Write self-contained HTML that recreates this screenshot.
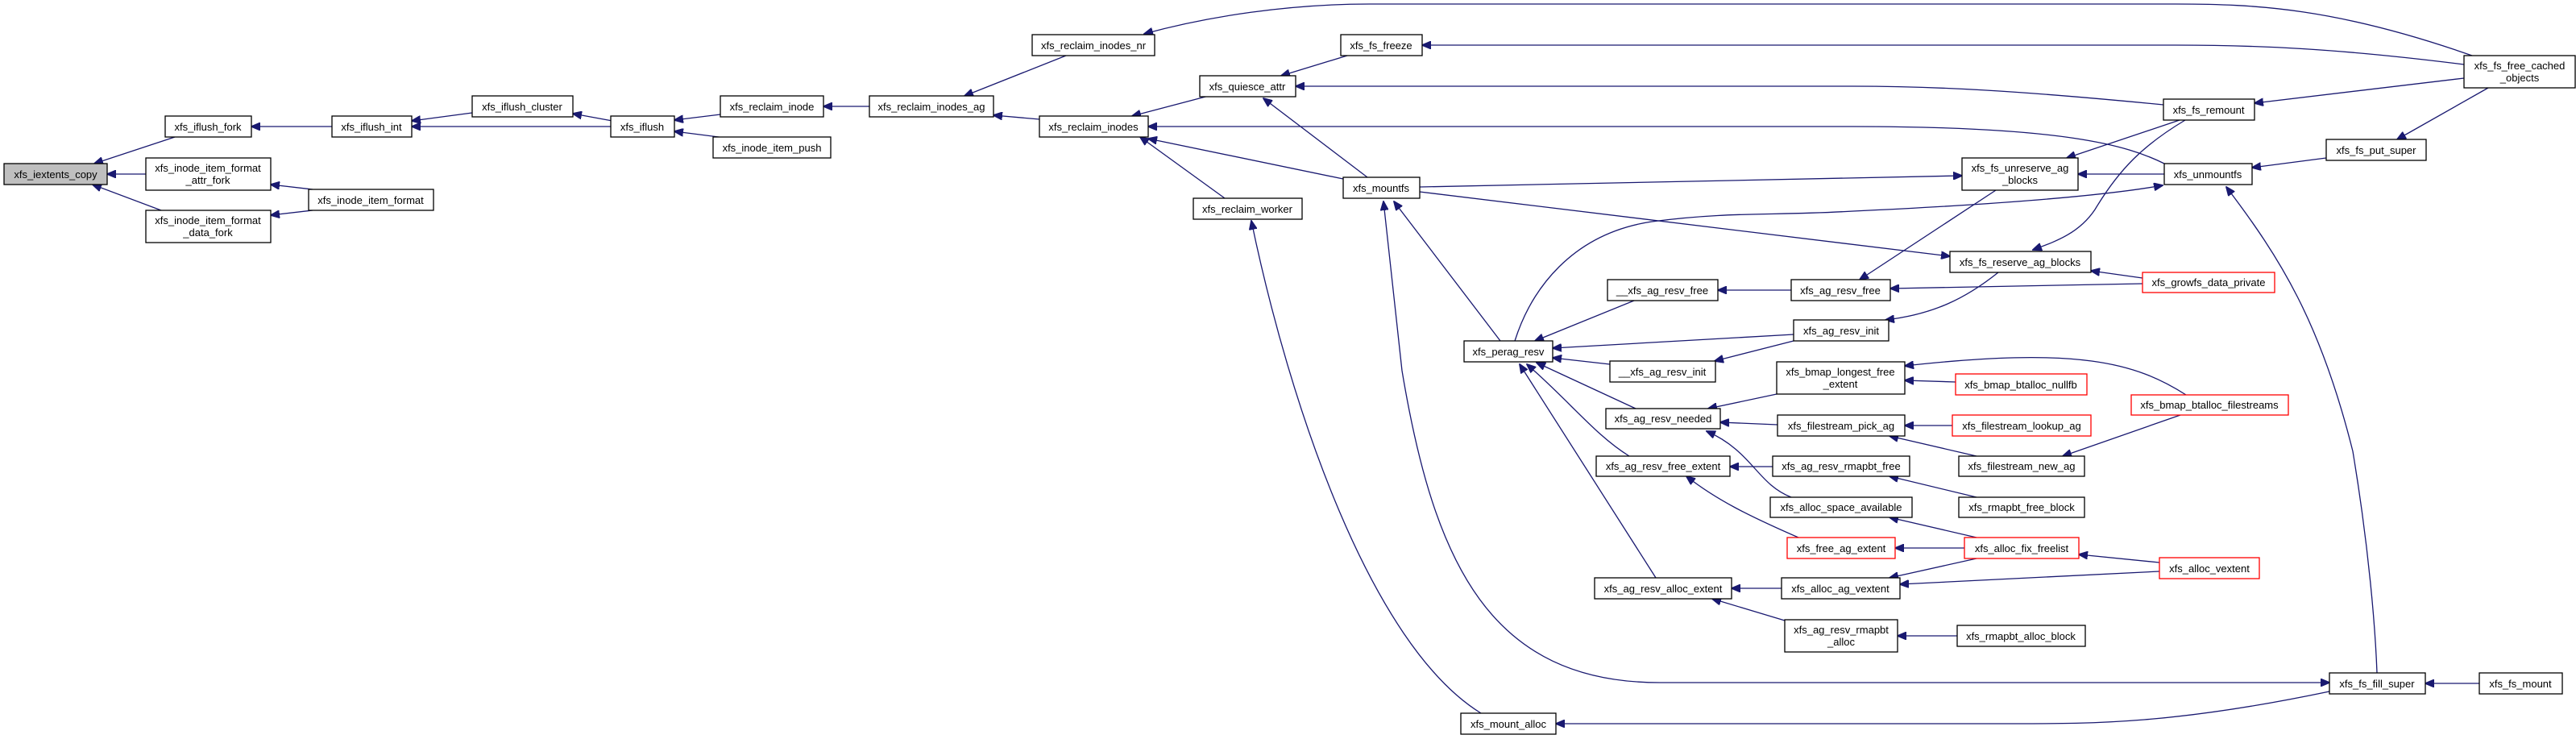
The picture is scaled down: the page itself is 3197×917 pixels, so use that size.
<!DOCTYPE html>
<html><head><meta charset="utf-8"><style>
html,body{margin:0;padding:0;background:#fff;}
svg{display:block;}
text{font-family:"Liberation Sans",sans-serif;font-size:13px;fill:#000;}
.n rect{fill:#fff;stroke:#000;stroke-width:1.3;}
.r rect{stroke:#ff0000;}
.e{fill:none;stroke:#191970;stroke-width:1.3;}
</style></head><body>
<svg width="3197" height="917" viewBox="0 0 3197 917" xmlns="http://www.w3.org/2000/svg">
<defs><marker id="a" markerWidth="12" markerHeight="10" refX="11" refY="5" orient="auto" markerUnits="userSpaceOnUse"><path d="M0,0 L12,5 L0,10 z" fill="#191970" stroke="#191970"/></marker></defs>
<g marker-end="url(#a)">
<path class="e" d="M217,170 L117,203"/>
<path class="e" d="M181,216 L133,216"/>
<path class="e" d="M200,261 L115,229"/>
<path class="e" d="M388,235 L336,229"/>
<path class="e" d="M388,261 L336,267"/>
<path class="e" d="M412,157 L312,157"/>
<path class="e" d="M586,140 L511,150"/>
<path class="e" d="M758,157 L511,157"/>
<path class="e" d="M760,150 L711,141"/>
<path class="e" d="M894,142 L837,149"/>
<path class="e" d="M900,171 L837,163"/>
<path class="e" d="M1079,132 L1022,132"/>
<path class="e" d="M1323,69 L1197,119"/>
<path class="e" d="M1290,148 L1233,143"/>
<path class="e" d="M1500,119 L1405,144"/>
<path class="e" d="M1667,222 L1425,172"/>
<path class="e" d="M1520,246 L1415,170"/>
<path class="e" d="M2686,203 C2640,180 2560,157 2300,157 L1425,157"/>
<path class="e" d="M1672,69 L1590,94"/>
<path class="e" d="M2685,130 C2500,112 2400,107 2300,107 L1608,107"/>
<path class="e" d="M1697,220 L1568,122"/>
<path class="e" d="M3068,69 C2900,10 2800,5 2700,5 L1700,5 C1600,5 1500,20 1420,42"/>
<path class="e" d="M3058,80 C2900,60 2800,56 2700,56 L1765,56"/>
<path class="e" d="M3058,97 L2798,128"/>
<path class="e" d="M3088,109 L2975,173"/>
<path class="e" d="M2887,196 L2795,208"/>
<path class="e" d="M1762,232 L2435,218"/>
<path class="e" d="M1762,238 L2420,318"/>
<path class="e" d="M2686,216 L2579,216"/>
<path class="e" d="M2705,149 L2565,196"/>
<path class="e" d="M2712,149 C2660,180 2630,210 2600,260 C2580,290 2550,300 2523,310"/>
<path class="e" d="M1880,423 C1900,360 1950,290 2050,275 C2150,262 2200,268 2300,262 C2450,255 2600,245 2684,230"/>
<path class="e" d="M2477,236 L2308,347"/>
<path class="e" d="M2480,338 C2440,370 2400,390 2340,397"/>
<path class="e" d="M2659,345 L2595,336"/>
<path class="e" d="M2659,352 L2346,358"/>
<path class="e" d="M2223,360 L2132,360"/>
<path class="e" d="M2028,373 L1905,423"/>
<path class="e" d="M2226,415 L1927,432"/>
<path class="e" d="M2226,423 L2128,448"/>
<path class="e" d="M1998,452 L1927,444"/>
<path class="e" d="M1862,423 L1730,250"/>
<path class="e" d="M1740,460 L1717,250"/>
<path class="e" d="M1740,460 C1780,700 1850,847 2060,847 L2891,847"/>
<path class="e" d="M1838,885 C1700,800 1600,500 1553,274"/>
<path class="e" d="M2891,858 C2700,898 2600,898 2500,898 L1931,898"/>
<path class="e" d="M2950,835 C2948,780 2940,680 2920,560 C2880,400 2830,320 2763,232"/>
<path class="e" d="M2030,507 L1907,450"/>
<path class="e" d="M2022,566 C1980,540 1950,500 1895,452"/>
<path class="e" d="M2055,717 L1886,452"/>
<path class="e" d="M2205,489 L2120,507"/>
<path class="e" d="M2206,527 L2135,524"/>
<path class="e" d="M2223,617 C2180,600 2175,560 2118,535"/>
<path class="e" d="M2427,474 L2364,472"/>
<path class="e" d="M2713,490 C2650,450 2580,430 2364,454"/>
<path class="e" d="M2423,528 L2364,528"/>
<path class="e" d="M2453,566 L2345,541"/>
<path class="e" d="M2706,515 L2560,566"/>
<path class="e" d="M2200,579 L2147,579"/>
<path class="e" d="M2453,617 L2345,591"/>
<path class="e" d="M2232,667 C2170,640 2130,620 2093,591"/>
<path class="e" d="M2453,667 L2345,642"/>
<path class="e" d="M2438,680 L2352,680"/>
<path class="e" d="M2453,693 L2345,717"/>
<path class="e" d="M2680,698 L2580,688"/>
<path class="e" d="M2680,709 L2358,725"/>
<path class="e" d="M2211,730 L2149,730"/>
<path class="e" d="M2215,770 L2125,743"/>
<path class="e" d="M2429,789 L2355,789"/>
<path class="e" d="M3077,848 L3010,848"/>
</g>
<g class="n" text-anchor="middle">
<rect x="5" y="203" width="128" height="26" style="fill:#bfbfbf"/><text x="69" y="221">xfs_iextents_copy</text>
<rect x="205" y="144" width="107" height="26"/><text x="258" y="162">xfs_iflush_fork</text>
<rect x="181" y="196" width="155" height="40"/><text x="258" y="213">xfs_inode_item_format</text><text x="258" y="228">_attr_fork</text>
<rect x="181" y="261" width="155" height="40"/><text x="258" y="278">xfs_inode_item_format</text><text x="258" y="293">_data_fork</text>
<rect x="383" y="235" width="155" height="26"/><text x="460" y="253">xfs_inode_item_format</text>
<rect x="412" y="144" width="99" height="26"/><text x="461" y="162">xfs_iflush_int</text>
<rect x="586" y="119" width="125" height="26"/><text x="648" y="137">xfs_iflush_cluster</text>
<rect x="758" y="144" width="79" height="26"/><text x="797" y="162">xfs_iflush</text>
<rect x="894" y="119" width="128" height="26"/><text x="958" y="137">xfs_reclaim_inode</text>
<rect x="885" y="170" width="146" height="26"/><text x="958" y="188">xfs_inode_item_push</text>
<rect x="1079" y="119" width="154" height="26"/><text x="1156" y="137">xfs_reclaim_inodes_ag</text>
<rect x="1281" y="43" width="152" height="26"/><text x="1357" y="61">xfs_reclaim_inodes_nr</text>
<rect x="1290" y="144" width="135" height="26"/><text x="1357" y="162">xfs_reclaim_inodes</text>
<rect x="1489" y="94" width="119" height="26"/><text x="1548" y="112">xfs_quiesce_attr</text>
<rect x="1664" y="43" width="101" height="26"/><text x="1714" y="61">xfs_fs_freeze</text>
<rect x="1481" y="246" width="135" height="26"/><text x="1548" y="264">xfs_reclaim_worker</text>
<rect x="1667" y="220" width="95" height="26"/><text x="1714" y="238">xfs_mountfs</text>
<rect x="2435" y="196" width="144" height="40"/><text x="2507" y="213">xfs_fs_unreserve_ag</text><text x="2507" y="228">_blocks</text>
<rect x="2420" y="312" width="175" height="26"/><text x="2507" y="330">xfs_fs_reserve_ag_blocks</text>
<rect x="3058" y="69" width="138" height="40"/><text x="3127" y="86">xfs_fs_free_cached</text><text x="3127" y="101">_objects</text>
<rect x="2685" y="123" width="113" height="26"/><text x="2741" y="141">xfs_fs_remount</text>
<rect x="2887" y="173" width="124" height="26"/><text x="2949" y="191">xfs_fs_put_super</text>
<rect x="2686" y="203" width="109" height="26"/><text x="2740" y="221">xfs_unmountfs</text>
<g class="r"><rect x="2659" y="338" width="164" height="25"/><text x="2741" y="355">xfs_growfs_data_private</text></g>
<rect x="1995" y="347" width="137" height="26"/><text x="2063" y="365">__xfs_ag_resv_free</text>
<rect x="2223" y="347" width="123" height="26"/><text x="2284" y="365">xfs_ag_resv_free</text>
<rect x="2226" y="397" width="118" height="26"/><text x="2285" y="415">xfs_ag_resv_init</text>
<rect x="1817" y="423" width="110" height="26"/><text x="1872" y="441">xfs_perag_resv</text>
<rect x="1998" y="448" width="131" height="26"/><text x="2063" y="466">__xfs_ag_resv_init</text>
<rect x="1993" y="507" width="142" height="25"/><text x="2064" y="524">xfs_ag_resv_needed</text>
<rect x="1981" y="566" width="166" height="25"/><text x="2064" y="583">xfs_ag_resv_free_extent</text>
<rect x="1979" y="717" width="170" height="26"/><text x="2064" y="735">xfs_ag_resv_alloc_extent</text>
<rect x="1813" y="885" width="118" height="26"/><text x="1872" y="903">xfs_mount_alloc</text>
<rect x="2205" y="449" width="159" height="40"/><text x="2284" y="466">xfs_bmap_longest_free</text><text x="2284" y="481">_extent</text>
<g class="r"><rect x="2427" y="464" width="163" height="26"/><text x="2508" y="482">xfs_bmap_btalloc_nullfb</text></g>
<g class="r"><rect x="2645" y="490" width="195" height="25"/><text x="2742" y="507">xfs_bmap_btalloc_filestreams</text></g>
<rect x="2206" y="515" width="158" height="26"/><text x="2285" y="533">xfs_filestream_pick_ag</text>
<g class="r"><rect x="2423" y="515" width="172" height="26"/><text x="2509" y="533">xfs_filestream_lookup_ag</text></g>
<rect x="2200" y="566" width="170" height="25"/><text x="2285" y="583">xfs_ag_resv_rmapbt_free</text>
<rect x="2431" y="566" width="156" height="25"/><text x="2509" y="583">xfs_filestream_new_ag</text>
<rect x="2197" y="617" width="176" height="25"/><text x="2285" y="634">xfs_alloc_space_available</text>
<rect x="2431" y="617" width="156" height="25"/><text x="2509" y="634">xfs_rmapbt_free_block</text>
<g class="r"><rect x="2218" y="667" width="134" height="26"/><text x="2285" y="685">xfs_free_ag_extent</text></g>
<g class="r"><rect x="2438" y="667" width="142" height="26"/><text x="2509" y="685">xfs_alloc_fix_freelist</text></g>
<g class="r"><rect x="2680" y="692" width="124" height="26"/><text x="2742" y="710">xfs_alloc_vextent</text></g>
<rect x="2211" y="717" width="147" height="26"/><text x="2284" y="735">xfs_alloc_ag_vextent</text>
<rect x="2215" y="769" width="140" height="40"/><text x="2285" y="786">xfs_ag_resv_rmapbt</text><text x="2285" y="801">_alloc</text>
<rect x="2429" y="776" width="159" height="26"/><text x="2508" y="794">xfs_rmapbt_alloc_block</text>
<rect x="2891" y="835" width="119" height="26"/><text x="2950" y="853">xfs_fs_fill_super</text>
<rect x="3077" y="835" width="103" height="26"/><text x="3128" y="853">xfs_fs_mount</text>
</g>
</svg>
</body></html>
